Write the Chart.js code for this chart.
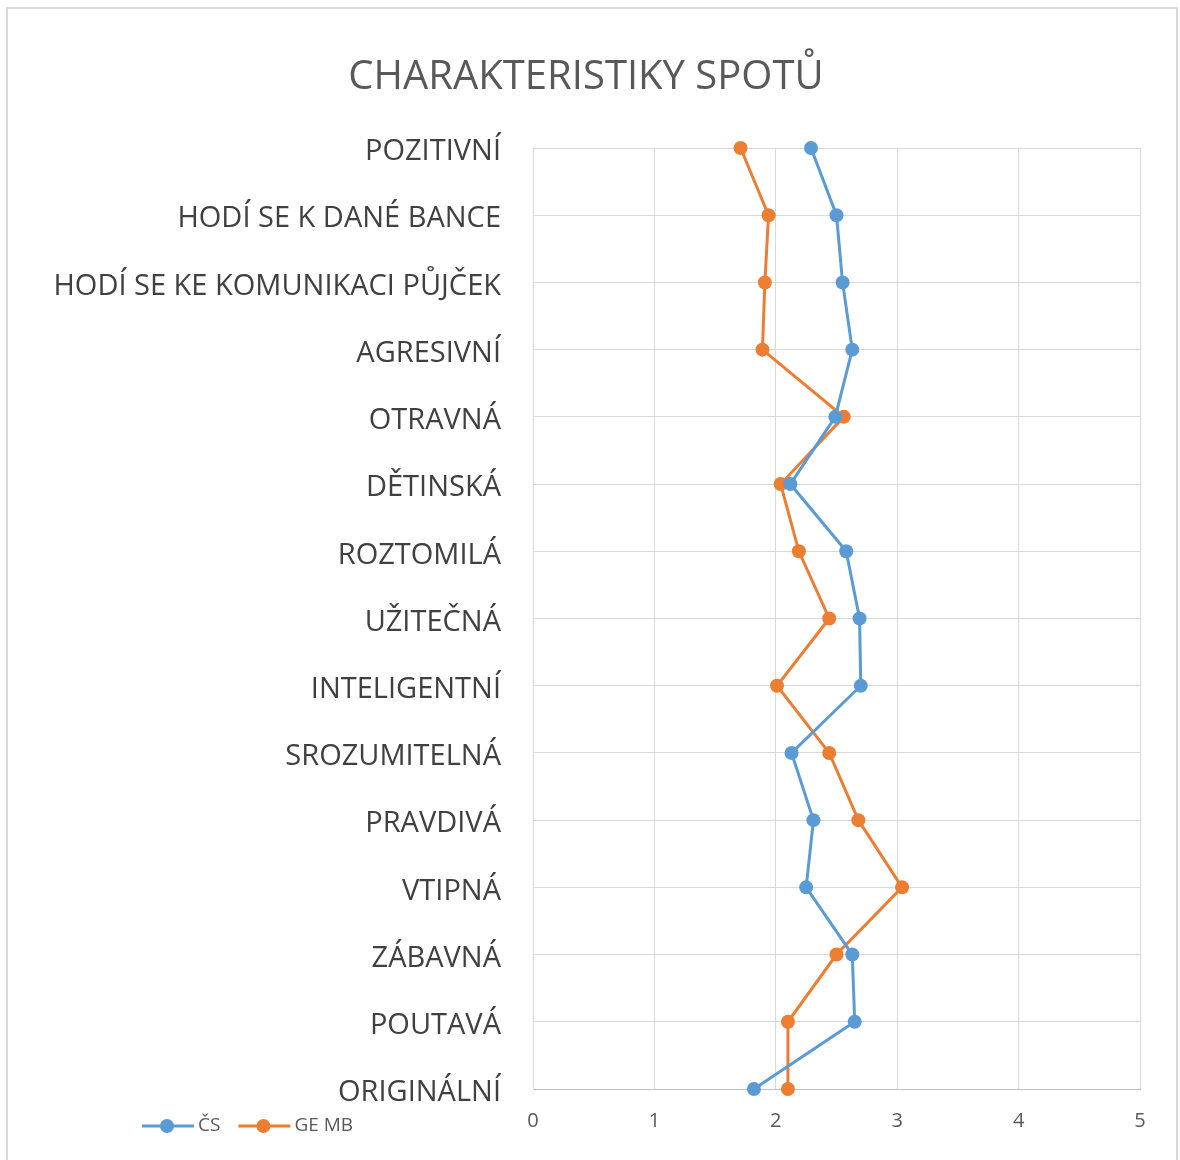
<!DOCTYPE html>
<html>
<head>
<meta charset="utf-8">
<title>Charakteristiky spotů</title>
<script src="https://cdn.jsdelivr.net/npm/chart.js@4.4.1/dist/chart.umd.min.js"></script>
<style>
    body { margin: 0; background: #fff; }
    #wrap { position: relative; width: 1180px; height: 1160px; }
    #frame {
        position: absolute; left: 6px; top: 7px; width: 1172px; height: 1160px;
        border: 2px solid #d9d9d9; border-bottom: none; box-sizing: border-box;
    }
    #Chart { position: absolute; left: 0; top: 0; }
</style>
</head>
<body>
<div id="wrap">
    <div id="frame"></div>
    <canvas id="Chart" width="1180" height="1160"></canvas>
</div>
<script>
// categories (top to bottom)
const categories = [
    "POZITIVNÍ", "HODÍ SE K DANÉ BANCE", "HODÍ SE KE KOMUNIKACI PŮJČEK", "AGRESIVNÍ",
    "OTRAVNÁ", "DĚTINSKÁ", "ROZTOMILÁ", "UŽITEČNÁ", "INTELIGENTNÍ", "SROZUMITELNÁ",
    "PRAVDIVÁ", "VTIPNÁ", "ZÁBAVNÁ", "POUTAVÁ", "ORIGINÁLNÍ"
];

// series values
const csValues = [2.29, 2.50, 2.55, 2.63, 2.49, 2.12, 2.58, 2.69, 2.70, 2.13, 2.31, 2.25, 2.63, 2.65, 1.82];
const gembValues = [1.71, 1.94, 1.91, 1.89, 2.56, 2.04, 2.19, 2.44, 2.01, 2.44, 2.68, 3.04, 2.50, 2.10, 2.10];

// x axis ticks
const xTicks = [0, 1, 2, 3, 4, 5];

const seriesNames = ["ČS", "GE MB"];
const seriesColors = ["#5b9bd5", "#ed7d31"];

const FONT = "'Open Sans', 'Noto Sans', sans-serif";

// legend drawn by hand, in the same row as the x labels (like the excel original)
const bottomLegend = {
    id: 'bottomLegend',
    afterDraw(chart) {
        const ctx = chart.ctx;
        let x = 142;
        const y = 1126;
        ctx.save();
        ctx.font = "19px " + FONT;
        ctx.textBaseline = 'middle';
        chart.data.datasets.forEach(ds => {
            ctx.strokeStyle = ds.borderColor;
            ctx.lineWidth = 3;
            ctx.beginPath();
            ctx.moveTo(x, y);
            ctx.lineTo(x + 52, y);
            ctx.stroke();
            ctx.fillStyle = ds.borderColor;
            ctx.beginPath();
            ctx.arc(x + 25, y, 7, 0, Math.PI * 2);
            ctx.fill();
            ctx.fillStyle = '#595959';
            ctx.fillText(ds.label, x + 56, y);
            x += 56 + ctx.measureText(ds.label).width + 18;
        });
        ctx.restore();
    }
};

const ctx = document.getElementById('Chart').getContext('2d');
const myChart = new Chart(ctx, {
    type: 'line',
    data: {
        labels: categories,
        datasets: [
            {
                label: seriesNames[0],
                data: csValues,
                borderColor: seriesColors[0],
                backgroundColor: seriesColors[0],
                borderWidth: 3,
                pointRadius: 7,
                pointHoverRadius: 7,
                pointBorderWidth: 0
            },
            {
                label: seriesNames[1],
                data: gembValues,
                borderColor: seriesColors[1],
                backgroundColor: seriesColors[1],
                borderWidth: 3,
                pointRadius: 7,
                pointHoverRadius: 7,
                pointBorderWidth: 0
            }
        ]
    },
    options: {
        responsive: false,
        animation: false,
        indexAxis: 'y',
        layout: { padding: { left: 32, right: 40, top: 0, bottom: 0 } },
        plugins: {
            legend: { display: false },
            tooltip: { enabled: false },
            title: {
                display: true,
                text: 'CHARAKTERISTIKY SPOTŮ',
                color: '#595959',
                font: { family: FONT, size: 40, weight: 'normal', lineHeight: 1.2 },
                padding: { top: 54, bottom: 46 }
            }
        },
        scales: {
            x: {
                type: 'linear',
                min: 0,
                max: 5,
                afterBuildTicks: axis => { axis.ticks = xTicks.map(v => ({ value: v })); },
                afterFit: axis => { axis.height = 71; },
                grid: { color: '#d9d9d9', lineWidth: 1, drawTicks: false },
                border: { color: '#bfbfbf', width: 1 },
                ticks: {
                    color: '#595959',
                    font: { family: FONT, size: 20 },
                    padding: 20
                }
            },
            y: {
                type: 'category',
                offset: false,
                afterFit: axis => { axis.width = 501; },
                grid: { color: '#d9d9d9', lineWidth: 1, drawTicks: false },
                border: { color: '#d9d9d9', width: 1 },
                ticks: {
                    color: '#404040',
                    font: { family: FONT, size: 29 },
                    padding: 32,
                    labelOffset: 4
                }
            }
        }
    },
    plugins: [bottomLegend]
});
</script>
</body>
</html>
